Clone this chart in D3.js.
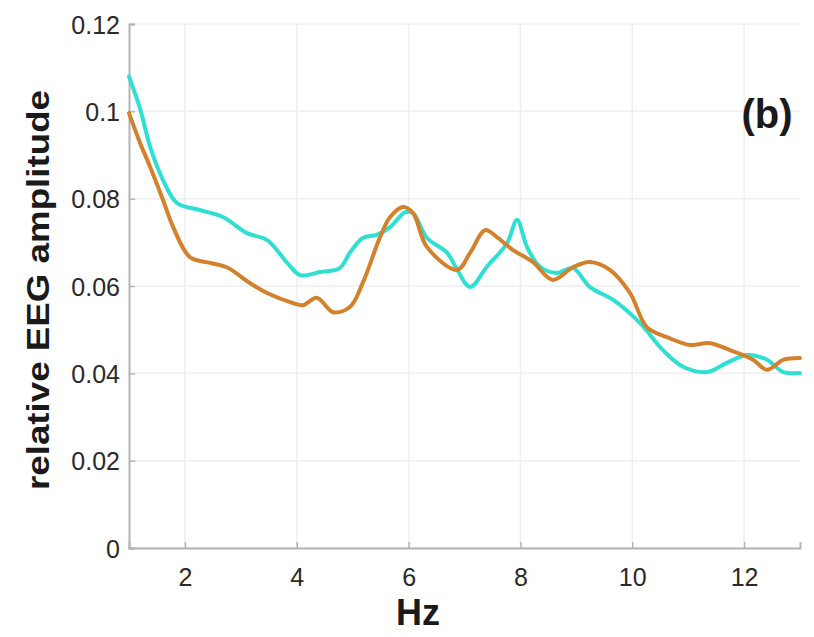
<!DOCTYPE html>
<html>
<head>
<meta charset="utf-8">
<script src="https://cdn.jsdelivr.net/npm/d3@7"></script>
<style>
  body { margin: 0; background: #fff; }
  text { font-family: "Liberation Sans", Arial, sans-serif; }
</style>
</head>
<body>
<div id="chart-area"></div>
<script>
// values
var cyanHz  = [1.00, 1.20, 1.38, 1.60, 1.86, 2.27, 2.68, 3.11, 3.47, 3.83, 4.06, 4.42, 4.77, 4.95, 5.18, 5.43, 5.67, 5.94, 6.08, 6.33, 6.69, 6.87, 7.10, 7.40, 7.76, 7.94, 8.12, 8.35, 8.65, 8.94, 9.24, 9.66, 10.14, 10.55, 10.91, 11.34, 11.69, 12.05, 12.41, 12.70, 13.00]
var cyanVal = [0.108, 0.1005, 0.0918, 0.0845, 0.0790, 0.0774, 0.0758, 0.0721, 0.0705, 0.0653, 0.0625, 0.0632, 0.0641, 0.0676, 0.0710, 0.0717, 0.0735, 0.0769, 0.0767, 0.0710, 0.0676, 0.0637, 0.0598, 0.0644, 0.0698, 0.0751, 0.0689, 0.0644, 0.0630, 0.0641, 0.0598, 0.0568, 0.0515, 0.0453, 0.0415, 0.0403, 0.0424, 0.0442, 0.0431, 0.0403, 0.0401]

var orangeHz  = [1.00, 1.20, 1.38, 1.60, 1.79, 2.09, 2.45, 2.75, 3.16, 3.47, 3.93, 4.11, 4.36, 4.65, 4.95, 5.18, 5.49, 5.67, 5.90, 6.08, 6.33, 6.87, 7.10, 7.37, 7.58, 7.87, 8.22, 8.58, 8.94, 9.24, 9.60, 9.96, 10.26, 10.62, 11.03, 11.39, 11.75, 12.16, 12.41, 12.70, 13.00]
var orangeVal = [0.0996, 0.0927, 0.0872, 0.0800, 0.0735, 0.0666, 0.0653, 0.0643, 0.0607, 0.0584, 0.0561, 0.0556, 0.0573, 0.0540, 0.0552, 0.0607, 0.0712, 0.0758, 0.0781, 0.0767, 0.0689, 0.0637, 0.0676, 0.0728, 0.0712, 0.0682, 0.0655, 0.0614, 0.0643, 0.0655, 0.0637, 0.0584, 0.0506, 0.0483, 0.0465, 0.0469, 0.0453, 0.0431, 0.0408, 0.0431, 0.0435]

var xTicks = [2, 4, 6, 8, 10, 12]
var yTicks = [0, 0.02, 0.04, 0.06, 0.08, 0.1, 0.12]

var margin = { left: 129, right: 14, top: 24, bottom: 89 }
var width = 814 - margin.left - margin.right,
    height = 637 - margin.top - margin.bottom

var svg = d3.select("#chart-area").append("svg")
    .attr("width", 814)
    .attr("height", 637)

var g = svg.append("g")
    .attr("transform", "translate(" + margin.left + "," + margin.top + ")")

var x = d3.scaleLinear().domain([1, 13]).range([0, width])
var y = d3.scaleLinear().domain([0, 0.12]).range([height, 0])

// grid
g.selectAll(".vgrid").data(xTicks).enter().append("line")
  .attr("class", "vgrid")
  .attr("x1", function(d) { return x(d) }).attr("x2", function(d) { return x(d) })
  .attr("y1", 0).attr("y2", height)
  .attr("stroke", "#efefef").attr("stroke-width", 1.5)

g.selectAll(".hgrid").data(yTicks).enter().append("line")
  .attr("class", "hgrid")
  .attr("x1", 0).attr("x2", width)
  .attr("y1", function(d) { return y(d) }).attr("y2", function(d) { return y(d) })
  .attr("stroke", "#efefef").attr("stroke-width", 1.5)

// axes
var xAxisCall = d3.axisBottom(x).tickValues(xTicks).tickSize(-6).tickPadding(15)
var yAxisCall = d3.axisLeft(y).tickValues(yTicks).tickSize(-6).tickPadding(9)
  .tickFormat(function(d) { return d === 0 ? "0" : String(+d.toFixed(2)) })

var xAxisGroup = g.append("g")
  .attr("transform", "translate(0," + height + ")")
  .call(xAxisCall)
var yAxisGroup = g.append("g").call(yAxisCall)

;[xAxisGroup, yAxisGroup].forEach(function(ax) {
  ax.select(".domain").attr("stroke", "#b4b4b4").attr("stroke-width", 2)
  ax.selectAll(".tick line").attr("stroke", "#b4b4b4").attr("stroke-width", 1.5)
  ax.selectAll(".tick text")
    .attr("font-size", "25px")
    .attr("fill", "#2a2a2a")
    .style("font-family", "'Liberation Sans', Arial, sans-serif")
})
xAxisGroup.selectAll(".tick text").attr("dy", "0.9em")
yAxisGroup.selectAll(".tick text").attr("dy", "0.36em")

// lines
var line = d3.line()
  .x(function(d) { return x(d[0]) })
  .y(function(d) { return y(d[1]) })
  .curve(d3.curveCatmullRom.alpha(0.5))

var series = [
  { color: "#2fe0d2", pts: d3.zip(cyanHz, cyanVal) },
  { color: "#d4812e", pts: d3.zip(orangeHz, orangeVal) }
]

g.selectAll(".series").data(series).enter().append("path")
  .attr("class", "series")
  .attr("d", function(d) { return line(d.pts) })
  .attr("fill", "none")
  .attr("stroke", function(d) { return d.color })
  .attr("stroke-width", 4)
  .attr("stroke-linejoin", "round")
  .attr("stroke-linecap", "round")

// labels
svg.append("text")
  .attr("x", 418)
  .attr("y", 625)
  .attr("text-anchor", "middle")
  .attr("font-size", "36px")
  .attr("font-weight", "bold")
  .attr("fill", "#1a1a1a")
  .text("Hz")

svg.append("text")
  .attr("transform", "translate(49,290) rotate(-90)")
  .attr("text-anchor", "middle")
  .attr("font-size", "31px")
  .attr("font-weight", "bold")
  .attr("fill", "#1a1a1a")
  .attr("textLength", 400)
  .attr("lengthAdjust", "spacingAndGlyphs")
  .text("relative EEG amplitude")

svg.append("text")
  .attr("x", 767)
  .attr("y", 128)
  .attr("text-anchor", "middle")
  .attr("font-size", "40px")
  .attr("font-weight", "bold")
  .attr("fill", "#1a1a1a")
  .text("(b)")
</script>
</body>
</html>
